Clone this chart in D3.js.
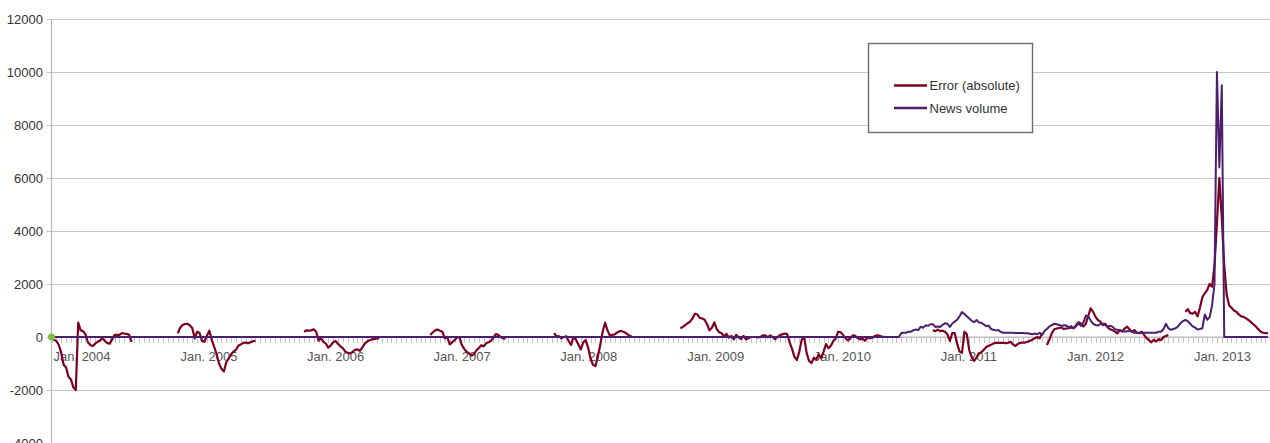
<!DOCTYPE html>
<html>
<head>
<meta charset="utf-8">
<script src="https://cdn.jsdelivr.net/npm/d3@7"></script>
<style>
  html, body { margin: 0; padding: 0; background: #fff; }
  svg { display: block; font-family: "Liberation Sans", Arial, sans-serif; }
</style>
</head>
<body>
<svg id="chart" width="1270" height="443"></svg>
<script>
// ---- data -------------------------------------------------------------
// Weekly values (weeks begin on Sunday). Error series is only available in
// seasonal runs; each run lists consecutive weekly values from its start date.
const seriesNames = ["Error (absolute)", "News volume"];

const yTickValues = [-4000, -2000, 0, 2000, 4000, 6000, 8000, 10000, 12000];
const yearLabels = ["Jan. 2004", "Jan. 2005", "Jan. 2006", "Jan. 2007", "Jan. 2008",
                    "Jan. 2009", "Jan. 2010", "Jan. 2011", "Jan. 2012", "Jan. 2013"];
const yearDates = ["2004-01-01", "2005-01-01", "2006-01-01", "2007-01-01", "2008-01-01",
                   "2009-01-01", "2010-01-01", "2011-01-01", "2012-01-01", "2013-01-01"];

const firstWeek = "2003-10-05";
const lastDay = "2013-05-18";

const errorRunStarts = ["2003-10-05", "2004-10-03", "2005-10-02", "2006-10-01", "2007-09-23",
                        "2008-09-21", "2010-09-19", "2011-08-14", "2012-09-16"];

const error2003 = [-20, -100, -150, -300, -600, -1050, -1150, -1500, -1600, -1900, -2000, 540,
  250, 220, 100, -200, -300, -340, -250, -180, -130, -50, -150, -230, -250, -80, 80, 80, 80,
  150, 130, 120, 80, -180];
const error2004 = [140, 350, 450, 490, 500, 440, 330, -50, 200, 150, -150, -180, 50, 240, -110,
  -370, -650, -1000, -1200, -1300, -950, -800, -650, -550, -480, -320, -280, -220, -210, -240,
  -200, -160, -140];
const error2005 = [200, 250, 240, 250, 290, 200, -140, -50, -180, -250, -400, -320, -200, -150,
  -260, -350, -420, -550, -600, -620, -560, -480, -470, -520, -400, -250, -170, -120, -90, -70,
  -50, -50];
const error2006 = [80, 170, 250, 280, 240, 200, -50, 0, -280, -200, -120, -20, 0, -300, -450,
  -560, -620, -700, -650, -500, -420, -310, -350, -240, -200, -150, -20, 110, 80, 0, -50, -60];
const error2007 = [150, 20, 30, -50, 0, 30, -150, -300, 0, -100, -280, -470, -200, -120, -400,
  -800, -1050, -1100, -750, -300, 200, 540, 250, 50, 80, 100, 170, 220, 220, 180, 120, 50, 20];
const error2008 = [330, 380, 450, 520, 580, 700, 880, 850, 720, 700, 650, 480, 250, 350, 550, 300,
  180, 140, 20, 120, -20, 40, -90, 80, -10, -80, 40, -90, -50, 0, 0, 0, -20, 0, 60, 60, -10, 60,
  0, -80, 0, 70, 100, 130, 110, -200, -450, -750, -870, -550, -100, 0, -600, -900, -980, -780,
  -850, -650, -800, -550, -270, -420, -330, -150, -60, 200, 180, 80, -40, -130, -50, 60, 40, -40,
  -90, -60, -140, -20, -50, -30, 30, 60, 50, 20, 10];
const error2010 = [260, 220, 280, 220, 240, 200, 100, -150, 150, 150, -250, -550, -600, 200, 100,
  -500, -760, -900, -770, -620, -570, -480, -380, -330, -290, -240, -220, -220, -220, -220, -230,
  -220, -180, -280, -340, -260, -220, -210, -210, -180, -140, -100, -50, 0, -50, 130];
const error2011 = [-300, -100, 150, 290, 320, 340, 360, 300, 320, 330, 360, 330, 450, 560, 500, 400,
  500, 800, 1080, 950, 760, 640, 580, 450, 500, 360, 290, 260, 200, 140, 260, 200, 320, 390, 290,
  200, 260, 160, 140, 200, 80, -40, -120, -200, -100, -170, -80, -120, 0, 40, 70];
const error2012 = [950, 1050, 900, 880, 950, 780, 1100, 1500, 1650, 1780, 2000, 1900, 2700, 4300,
  6000, 4500, 2700, 1600, 1200, 1100, 1000, 950, 850, 780, 760, 700, 640, 560, 480, 400, 300, 200,
  160, 150, 150];
const errorRuns = [error2003, error2004, error2005, error2006, error2007,
                   error2008, error2010, error2011, error2012];

// News volume was zero in every week before newsStart.
const newsBefore = 0;
const newsStart = "2010-06-13";
const newsVolume = [0, 150, 160, 160, 200, 200, 260, 280, 260, 390, 350, 440, 420, 480, 480, 380,
  400, 380, 460, 520, 500, 380, 510, 580, 650, 780, 940, 870, 780, 700, 610, 560, 640, 550, 540,
  470, 410, 430, 300, 270, 250, 260, 190, 160, 160, 160, 160, 160, 150, 150, 150, 150, 140, 140,
  120, 100, 130, 100, 160, 80, 230, 300, 400, 450, 500, 480, 450, 420, 440, 430, 360, 410, 330,
  410, 510, 420, 550, 800, 780, 620, 500, 450, 430, 490, 500, 450, 400, 420, 390, 290, 270, 250,
  240, 200, 220, 230, 200, 160, 160, 160, 160, 160, 160, 160, 160, 160, 160, 200, 200, 300, 500,
  330, 270, 300, 330, 400, 520, 600, 640, 600, 500, 400, 360, 280, 300, 330, 850, 650, 750, 1200,
  2000, 10000, 6400, 9500, 0, 0, 0, 0, 0, 0, 0, 0, 0, 0, 0, 0, 0, 0, 0, 0, 0, 0, 0];

const colors = { error: "#7e0021", news: "#4b1f6f", marker: "#7cc043" };

// ---- chart ------------------------------------------------------------
const W = 1270, H = 443;
const parse = d3.timeParse("%Y-%m-%d");
const svg = d3.select("#chart");

const x = d3.scaleTime()
  .domain([parse(firstWeek), parse(lastDay)])
  .range([51.5, W]);
const y = d3.scaleLinear()
  .domain([-4000, 12000])
  .range([H, 19]);

const weekly = (start, values) => {
  const s = parse(start);
  return values.map((v, i) => ({ date: d3.timeDay.offset(s, 7 * i), value: v }));
};

// horizontal grid lines
svg.append("g")
  .selectAll("line")
  .data(yTickValues)
  .join("line")
  .attr("x1", x.range()[0] - 5)
  .attr("x2", W)
  .attr("y1", d => Math.round(y(d)) + 0.5)
  .attr("y2", d => Math.round(y(d)) + 0.5)
  .attr("stroke", "#c6c6c6")
  .attr("stroke-width", 1.2);

// vertical axis line
svg.append("line")
  .attr("x1", x.range()[0]).attr("x2", x.range()[0])
  .attr("y1", y(12000)).attr("y2", H)
  .attr("stroke", "#b8b8b8").attr("stroke-width", 1.2);

// y labels
svg.append("g")
  .selectAll("text")
  .data(yTickValues)
  .join("text")
  .attr("x", 43)
  .attr("y", d => y(d) + 4.5)
  .attr("text-anchor", "end")
  .attr("font-size", 13)
  .attr("fill", "#333")
  .text(d => d);

// minor ticks along the zero line
const minorTicks = d3.timeWeek.every(2).range(x.domain()[0], x.domain()[1]);
svg.append("g")
  .selectAll("line")
  .data(minorTicks)
  .join("line")
  .attr("x1", d => Math.round(x(d)) + 0.5)
  .attr("x2", d => Math.round(x(d)) + 0.5)
  .attr("y1", y(0))
  .attr("y2", y(0) + 6)
  .attr("stroke", "#c4c4c4")
  .attr("stroke-width", 1);

// zero axis line
svg.append("line")
  .attr("x1", x.range()[0]).attr("x2", W)
  .attr("y1", y(0)).attr("y2", y(0))
  .attr("stroke", "#b8b8b8");

// year labels
svg.append("g")
  .selectAll("text")
  .data(yearLabels)
  .join("text")
  .attr("x", (d, i) => x(parse(yearDates[i])))
  .attr("y", y(0) + 24)
  .attr("text-anchor", "middle")
  .attr("font-size", 13)
  .attr("fill", "#555")
  .text(d => d);

const line = d3.line()
  .x(d => x(d.date))
  .y(d => y(d.value))
  .curve(d3.curveLinear);

// error runs
svg.append("g")
  .selectAll("path")
  .data(errorRuns.map((vals, i) => weekly(errorRunStarts[i], vals)))
  .join("path")
  .attr("d", line)
  .attr("fill", "none")
  .attr("stroke", colors.error)
  .attr("stroke-width", 2.2)
  .attr("stroke-linejoin", "round");

// news volume
const newsPoints = [{ date: parse(firstWeek), value: newsBefore }].concat(weekly(newsStart, newsVolume));
svg.append("path")
  .datum(newsPoints)
  .attr("d", line)
  .attr("fill", "none")
  .attr("stroke", colors.news)
  .attr("stroke-width", 2)
  .attr("stroke-linejoin", "round");

// origin marker
svg.append("circle")
  .attr("cx", x(parse(firstWeek)))
  .attr("cy", y(0))
  .attr("r", 3.5)
  .attr("fill", colors.marker);

// legend
const lg = svg.append("g");
lg.append("rect")
  .attr("x", 868.5).attr("y", 43.5)
  .attr("width", 164).attr("height", 89)
  .attr("fill", "#fff")
  .attr("stroke", "#6b6b6b")
  .attr("stroke-width", 1.4);
[colors.error, colors.news].forEach((c, i) => {
  const ly = 85.5 + i * 22.5;
  lg.append("line")
    .attr("x1", 894).attr("x2", 927)
    .attr("y1", ly).attr("y2", ly)
    .attr("stroke", c).attr("stroke-width", 2.5);
  lg.append("text")
    .attr("x", 929.5).attr("y", ly + 4.5)
    .attr("font-size", 13)
    .attr("fill", "#333")
    .text(seriesNames[i]);
});
</script>
</body>
</html>
